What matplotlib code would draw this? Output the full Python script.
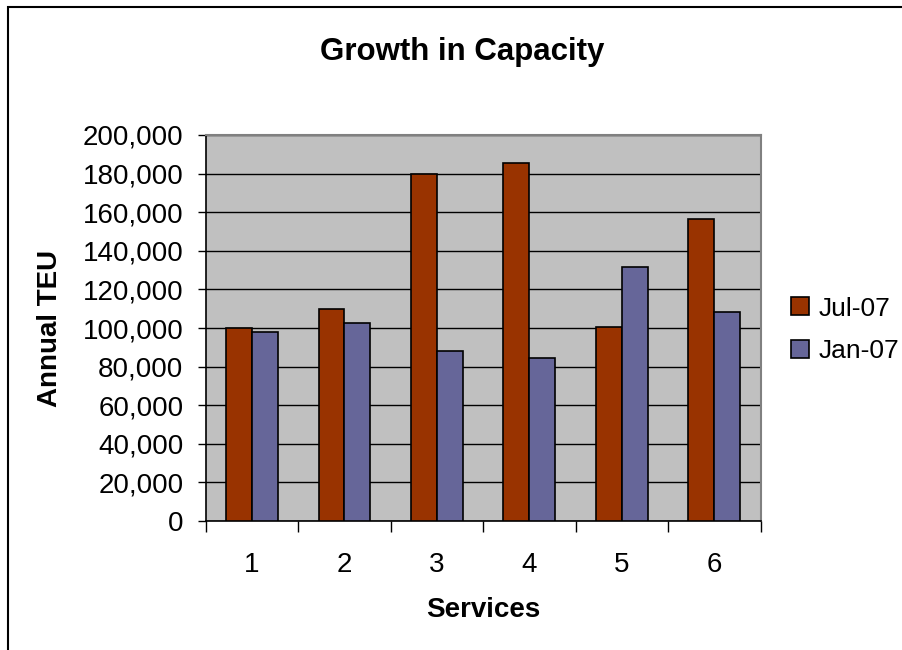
import matplotlib
matplotlib.use("Agg")
import matplotlib.pyplot as plt
from matplotlib.patches import Rectangle
from matplotlib.ticker import FuncFormatter, MultipleLocator
import numpy as np

plt.rcParams['font.family'] = ['Liberation Sans', 'DejaVu Sans']

services = ["1", "2", "3", "4", "5", "6"]
jul07 = [100000, 109700, 180000, 185500, 100300, 156400]
jan07 = [98100, 102400, 87900, 84600, 131700, 108500]
series_names = ["Jul-07", "Jan-07"]
title = "Growth in Capacity"

fig = plt.figure(figsize=(9.02, 6.5), dpi=100)
fig.patch.set_facecolor("white")

# outer chart frame
fig.patches.append(Rectangle((8/902, -0.05), 1.2, 1 - 7/650 + 0.05,
                             transform=fig.transFigure, fill=False,
                             edgecolor="black", linewidth=1.5, zorder=0))

ax = fig.add_axes([205.7/902, 1 - 521/650, (760.5 - 205.7)/902, (521 - 135)/650])
ax.set_facecolor("#C0C0C0")

x = np.arange(1, len(services) + 1)
w = 0.28
b1 = ax.bar(x - w/2, jul07, w, color="#993300", edgecolor="black", linewidth=1.2,
            label=series_names[0], zorder=3)
b2 = ax.bar(x + w/2, jan07, w, color="#666699", edgecolor="black", linewidth=1.2,
            label=series_names[1], zorder=3)

ax.set_xlim(0.5, 6.5)
ax.set_ylim(0, 200000)
ax.yaxis.set_major_locator(MultipleLocator(20000))
ax.yaxis.set_major_formatter(FuncFormatter(lambda v, p: f"{v:,.0f}"))
ax.grid(axis="y", color="black", linewidth=1.0, zorder=1)
ax.set_axisbelow(True)

ax.set_xticks(x)
ax.set_xticklabels(services)
ax.set_xticks(np.arange(0.5, 7.0, 1.0), minor=True)
ax.tick_params(axis="x", which="major", length=0, pad=22, labelsize=20)
ax.tick_params(axis="x", which="minor", length=8, width=1, color="black", direction="out")
ax.tick_params(axis="y", length=6, width=1, color="black", direction="out", pad=10, labelsize=20)

for s in ["top", "right"]:
    ax.spines[s].set_color("#808080")
    ax.spines[s].set_linewidth(1.5)
for s in ["left", "bottom"]:
    ax.spines[s].set_color("black")
    ax.spines[s].set_linewidth(1.2)

ax.set_xlabel("Services", fontsize=20, fontweight="bold", labelpad=14)
ax.set_ylabel("Annual TEU", fontsize=20, fontweight="bold")
ax.yaxis.set_label_coords((63 - 205.7) / (760.5 - 205.7), 0.5)

fig.text(462/902, 1 - 52/650, title, ha="center", va="center",
         fontsize=22.5, fontweight="bold")

leg = fig.legend(handles=[b1, b2], labels=series_names, loc="center left",
                 bbox_to_anchor=(791/902, 1 - 330/650), frameon=False,
                 borderaxespad=0, borderpad=0,
                 fontsize=19, handlelength=0.68, handleheight=0.68,
                 handletextpad=0.35, labelspacing=0.72)

fig.savefig("out.png", dpi=100)
